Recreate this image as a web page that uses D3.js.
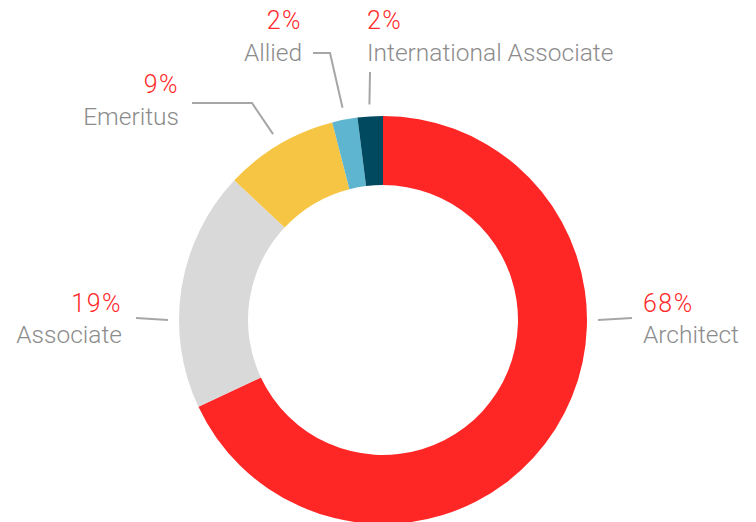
<!DOCTYPE html>
<html>
<head>
<meta charset="utf-8">
<script src="https://cdn.jsdelivr.net/npm/d3@7"></script>
<style>
  body { margin: 0; background: #fff; }
  svg { display: block; }
  text { font-family: Roboto, "Noto Sans", sans-serif; font-weight: 300; }
</style>
</head>
<body>
<div id="chart"></div>
<script>
// membership categories, clockwise from 12 o'clock
var categories = ["Architect", "Associate", "Emeritus", "Allied", "International Associate"];
var shares = [68, 19, 9, 2, 2];
var pctLabels = ["68%", "19%", "9%", "2%", "2%"];
var colors = ["#ff2626", "#d9d9d9", "#f7c544", "#5db5cf", "#00495f"];

var width = 756, height = 522;
var cx = 383, cy = 320, outerR = 204, innerR = 135;

// leader line layout: angle (deg, null = slice middle), radius of start, path points relative to center
var leaders = [
  {angle: 90,  r: 215, pts: [[249, -2]],              tx: 260,  anchor: "start", py: -8,   ly: 23},
  {angle: 270, r: 215, pts: [[-247, -2]],             tx: -261, anchor: "end",   py: -8,   ly: 23},
  {angle: null, r: 216, pts: [[-131, -217], [-191, -217]], tx: -204, anchor: "end", py: -227, ly: -195},
  {angle: null, r: 216, pts: [[-53, -267], [-70, -267]],   tx: -81,  anchor: "end", py: -291, ly: -259},
  {angle: null, r: 216, pts: [[-13, -248]],               tx: -16,  anchor: "start", py: -291, ly: -259}
];

var svg = d3.select("#chart")
    .append("svg")
    .attr("width", width)
    .attr("height", height)
    .append("g")
    .attr("transform", "translate(" + cx + "," + cy + ")");

var pie = d3.pie().sort(null).value(function(d) { return d; });
var arcs = pie(shares);

var arc = d3.arc().innerRadius(innerR).outerRadius(outerR);

//Slices
svg.selectAll("path.slice")
    .data(arcs)
    .enter()
    .append("path")
    .attr("class", "slice")
    .attr("d", arc)
    .attr("fill", function(d, i) { return colors[i]; });

//Leader lines
svg.selectAll("path.leader")
    .data(arcs)
    .enter()
    .append("path")
    .attr("class", "leader")
    .attr("fill", "none")
    .attr("stroke", "#a6a6a6")
    .attr("stroke-width", 2)
    .attr("d", function(d, i) {
        var L = leaders[i];
        var a = L.angle == null ? (d.startAngle + d.endAngle) / 2 : L.angle * Math.PI / 180;
        var start = [L.r * Math.sin(a), -L.r * Math.cos(a)];
        return d3.line()([start].concat(L.pts));
    });

//Percent labels
svg.selectAll("text.pct")
    .data(arcs)
    .enter()
    .append("text")
    .attr("class", "pct")
    .attr("x", function(d, i) { return leaders[i].tx; })
    .attr("y", function(d, i) { return leaders[i].py; })
    .attr("text-anchor", function(d, i) { return leaders[i].anchor; })
    .style("font-size", "25px")
    .style("letter-spacing", "1.5px")
    .attr("fill", "#ff2a2a")
    .text(function(d, i) { return pctLabels[i]; });

//Category labels
svg.selectAll("text.cat")
    .data(arcs)
    .enter()
    .append("text")
    .attr("class", "cat")
    .attr("x", function(d, i) { return leaders[i].tx; })
    .attr("y", function(d, i) { return leaders[i].ly; })
    .attr("text-anchor", function(d, i) { return leaders[i].anchor; })
    .style("font-size", "24.5px")
    .attr("fill", "#8c8c8c")
    .text(function(d, i) { return categories[i]; });
</script>
</body>
</html>
